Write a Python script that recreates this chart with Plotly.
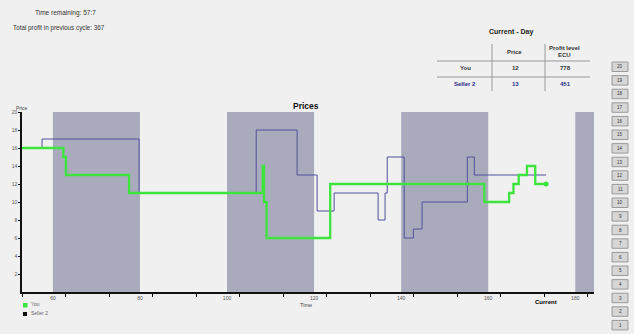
import plotly.graph_objects as go

# ---- data ----
you_time = [52.9, 62.4, 63.0, 77.5, 108.2, 108.5, 109.1, 123.7, 159.1, 164.8, 165.8, 167.0, 168.9, 170.8, 173.3]
you_price = [16, 15, 13, 11, 14, 10, 6, 12, 10, 11, 12, 13, 14, 12, 12]
seller_time = [52.9, 57.5, 79.8, 106.7, 116.1, 120.7, 124.6, 134.7, 136.3, 136.8, 140.7, 142.8, 144.8, 155.2, 156.8, 173.3]
seller_price = [16, 17, 11, 18, 13, 9, 11, 8, 11, 15, 6, 7, 10, 15, 13, 13]
band_starts = [60, 100, 140, 180]
band_width = 20
x_ticks = [60, 80, 100, 120, 140, 160, 180]
y_ticks = [2, 4, 6, 8, 10, 12, 14, 16, 18, 20]
table_rows = ["You", "Seller 2"]
table_price = [12, 13]
table_profit = [778, 451]
buttons = list(range(20, 0, -1))

FONT = "Arial, Liberation Sans, sans-serif"
W, H = 634, 334
L, R, T, B = 22, 594, 112, 292


def px(x):
    return (x - L) / (R - L)


def py(y):
    return (B - y) / (B - T)


fig = go.Figure()
fig.add_trace(go.Scatter(x=seller_time, y=seller_price, mode="lines", line=dict(color="#50509c", width=1, shape="hv"),
                         showlegend=False, hoverinfo="skip"))
fig.add_trace(go.Scatter(x=you_time, y=you_price, mode="lines", line=dict(color="#3ee43e", width=2.3, shape="hv"),
                         showlegend=False, hoverinfo="skip"))
fig.add_trace(go.Scatter(x=[you_time[-1]], y=[you_price[-1]], mode="markers", marker=dict(color="#3ee43e", size=5),
                         showlegend=False, hoverinfo="skip"))

shapes = []
for s in band_starts:
    shapes.append(dict(type="rect", xref="x", yref="y", x0=s, x1=s + band_width, y0=0, y1=20,
                       fillcolor="#a9abbc", line=dict(width=0), layer="below"))

ann = []


def text(x, y, t, size=6, color="#333", bold=False, xanchor="center"):
    ann.append(dict(xref="paper", yref="paper", x=px(x), y=py(y), text=("<b>%s</b>" % t) if bold else t,
                    showarrow=False, xanchor=xanchor, yanchor="middle",
                    font=dict(family=FONT, size=size, color=color)))


text(65, 13, "Time remaining: 57:7", 6.5)
text(59, 28, "Total profit in previous cycle: 367", 6.3)
text(306, 106, "Prices", 8.5, "#111", True)
text(22, 108, "Price", 5, "#444")
text(306, 305, "Time", 5.5, "#444")
text(546, 302, "Current", 6, "#000", True)

# legend
shapes.append(dict(type="rect", xref="paper", yref="paper", x0=px(23), x1=px(27.5), y0=py(307.5), y1=py(303),
                   fillcolor="#3ee43e", line=dict(width=0)))
shapes.append(dict(type="rect", xref="paper", yref="paper", x0=px(23), x1=px(27), y0=py(316), y1=py(312),
                   fillcolor="#111", line=dict(width=0)))
text(29, 304, "You", 5, "#666", xanchor="left")
text(29, 313, "Seller 2", 5, "#666", xanchor="left")

# table
text(511, 32, "Current - Day", 7, "#222", True)
text(514, 52, "Price", 6, "#333", True)
text(564, 48, "Profit level", 6, "#333", True)
text(564, 55, "ECU", 6, "#333", True)
row_y = [68, 84]
for i, name in enumerate(table_rows):
    col = "#333" if i == 0 else "#2c2c8c"
    text(465, row_y[i], name, 6, col, True)
    text(515, row_y[i], str(table_price[i]), 6, col, True)
    text(565, row_y[i], str(table_profit[i]), 6, col, True)
for yy in (61, 77):
    shapes.append(dict(type="line", xref="paper", yref="paper", x0=px(437), x1=px(590), y0=py(yy), y1=py(yy),
                       line=dict(color="#999", width=1)))
for xx in (492, 545):
    shapes.append(dict(type="line", xref="paper", yref="paper", x0=px(xx), x1=px(xx), y0=py(44), y1=py(91),
                       line=dict(color="#999", width=1)))

# buttons
for i, b in enumerate(buttons):
    top = 62 + 13.6 * i
    shapes.append(dict(type="rect", xref="paper", yref="paper", x0=px(612), x1=px(628), y0=py(top + 9.5), y1=py(top),
                       fillcolor="#d6d6d6", line=dict(color="#9a9a9a", width=1)))
    text(620, top + 4.8, str(b), 4.5, "#333")

fig.update_layout(
    width=W, height=H,
    margin=dict(l=L, r=W - R, t=T, b=H - B, pad=0),
    paper_bgcolor="#f0f0f0", plot_bgcolor="#f0f0f0",
    shapes=shapes, annotations=ann, showlegend=False,
    xaxis=dict(range=[52.9, 184.3], tickvals=x_ticks, ticks="", showgrid=False, zeroline=False,
               showline=True, linecolor="#111", linewidth=1.5,
               tickfont=dict(family=FONT, size=5, color="#555"),
               minor=dict(tick0=52.9, dtick=10, ticks="outside", ticklen=3, tickcolor="#111", showgrid=False)),
    yaxis=dict(range=[0, 20], tickvals=y_ticks, ticks="outside", ticklen=2, tickcolor="#111",
               showgrid=False, zeroline=False, showline=True, linecolor="#111", linewidth=1.5,
               tickfont=dict(family=FONT, size=5, color="#555")),
)

fig.write_html("out.html")
